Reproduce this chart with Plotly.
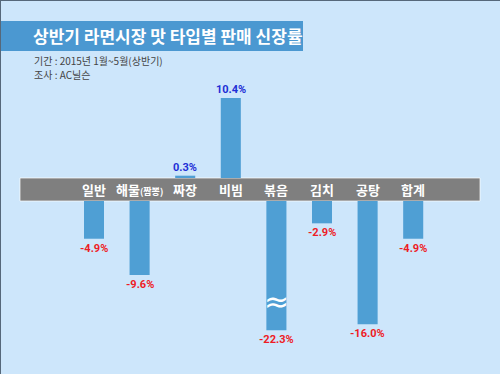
import plotly.graph_objects as go

# ---- data ----
categories = ["일반", "해물", "짜장", "비빔", "볶음", "김치", "공탕", "합계"]
category_labels = ["일반", "해물<span style='font-size:9px'>(짬뽕)</span>", "짜장", "비빔",
                   "볶음", "김치", "공탕", "합계"]
growth = [-4.9, -9.6, 0.3, 10.4, -22.3, -2.9, -16.0, -4.9]
value_labels = ["-4.9%", "-9.6%", "0.3%", "10.4%", "-22.3%", "-2.9%", "-16.0%", "-4.9%"]

title_text = "상반기 라면시장 맛 타입별 판매 신장률"
sub1 = "기간 : 2015년 1월~5월(상반기)"
sub2 = "조사 : AC닐슨"

# ---- layout constants ----
W, H = 500, 374
S = 7.7                 # px per percent
ZERO_PX = 178           # pixel row of value 0 (top of gray band)
BAND_PX = 23            # gray band thickness in px
GAP = BAND_PX / S       # band thickness in data units
BREAK_LIMIT = -16.8     # axis break: bars longer than this are drawn broken

ymax = ZERO_PX / S
ymin = ymax - H / S
first_px, step_px = 94, 45.6
xmin = -first_px / step_px
xmax = xmin + W / step_px

BG = "#cde6fb"
BAR = "#4f9fd4"
FONT_KR = "Noto Sans CJK KR"
FONT_NUM = "Roboto, Noto Sans CJK KR"

bases = [0 if v >= 0 else -GAP for v in growth]
shown = [v if v >= 0 else max(v, BREAK_LIMIT) for v in growth]

fig = go.Figure()
fig.add_trace(go.Bar(
    x=categories, y=shown, base=bases, width=0.44,
    marker=dict(color=BAR, line=dict(width=0)),
    hoverinfo="skip",
))

annotations = []
for c, v, b, sh, lab, cl in zip(categories, growth, bases, shown, value_labels, category_labels):
    end = b + sh
    if v >= 0:
        annotations.append(dict(x=c, y=end, text=f"<b>{lab}</b>", showarrow=False,
                                yanchor="bottom", yshift=0,
                                font=dict(family=FONT_NUM, size=11, color="#1f2fd6")))
    else:
        annotations.append(dict(x=c, y=end, text=f"<b>{lab}</b>", showarrow=False,
                                yanchor="top", yshift=-1,
                                font=dict(family=FONT_NUM, size=11, color="#ee1c25")))
    if v < BREAK_LIMIT:
        annotations.append(dict(x=c, y=b + sh * 0.78, text="≈", showarrow=False,
                                yanchor="middle",
                                font=dict(family="DejaVu Sans", size=30, color="white")))
    annotations.append(dict(x=c, y=-GAP / 2, text=f"<b>{cl}</b>", showarrow=False,
                            yanchor="middle",
                            font=dict(family=FONT_KR, size=13, color="white")))

# title & subtitles
annotations.append(dict(xref="paper", yref="paper", x=31 / W, y=1 - 36 / H,
                        xanchor="left", yanchor="middle", showarrow=False,
                        text=f"<b>{title_text}</b>",
                        font=dict(family=FONT_KR, size=17, color="white")))
for txt, ypx in ((sub1, 61), (sub2, 74)):
    annotations.append(dict(xref="paper", yref="paper", x=33 / W, y=1 - ypx / H,
                            xanchor="left", yanchor="middle", showarrow=False,
                            borderpad=0, text=txt,
                            font=dict(family=FONT_KR, size=10, color="#444444")))

shapes = [
    # gray band
    dict(type="rect", xref="paper", yref="y", x0=20 / W, x1=480 / W, y0=-GAP, y1=0,
         fillcolor="#7f7f7f", line=dict(color="rgba(255,255,255,0.7)", width=1), layer="below"),
    # title band
    dict(type="rect", xref="paper", yref="paper", x0=0, x1=303 / W, y0=1 - 51 / H, y1=1 - 21 / H,
         fillcolor="#4b98d1", line=dict(width=0), layer="below"),
    # border top / left
    dict(type="line", xref="paper", yref="paper", x0=0, x1=1, y0=1, y1=1,
         line=dict(color="#56687a", width=2)),
    dict(type="line", xref="paper", yref="paper", x0=0, x1=0, y0=0, y1=1,
         line=dict(color="#56687a", width=2)),
]

fig.update_layout(
    width=W, height=H,
    margin=dict(l=0, r=0, t=0, b=0),
    paper_bgcolor=BG, plot_bgcolor=BG,
    showlegend=False,
    xaxis=dict(range=[xmin, xmax], visible=False, fixedrange=True),
    yaxis=dict(range=[ymin, ymax], visible=False, fixedrange=True),
    annotations=annotations,
    shapes=shapes,
)

fig.write_html("out.html", config={"displayModeBar": False},
               post_script="document.body.style.margin='0';document.body.style.overflow='hidden';")
